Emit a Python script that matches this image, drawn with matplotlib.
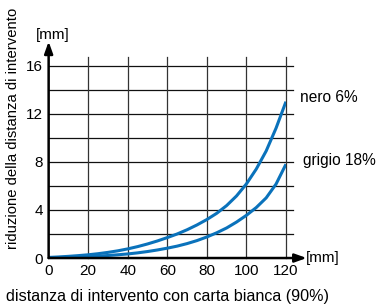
import matplotlib
matplotlib.use("Agg")
import matplotlib.pyplot as plt

x_vals = [0, 5, 10, 15, 20, 25, 30, 35, 40, 45, 50, 55, 60, 65, 70, 75, 80, 85, 90, 95, 100, 105, 110, 115, 120]
nero = [0.05, 0.09, 0.14, 0.20, 0.27, 0.36, 0.47, 0.60, 0.76, 0.95, 1.17, 1.42, 1.7, 2.0, 2.35, 2.75, 3.2,
        3.72, 4.36, 5.16, 6.16, 7.4, 8.9, 10.8, 13.0]
grigio = [0.02, 0.04, 0.06, 0.09, 0.12, 0.16, 0.21, 0.27, 0.34, 0.43, 0.54, 0.67, 0.82, 0.99, 1.2, 1.45, 1.75,
          2.1, 2.5, 2.99, 3.55, 4.2, 5.0, 6.15, 7.8]
x_ticks = [0, 20, 40, 60, 80, 100, 120]
y_ticks = [0, 4, 8, 12, 16]
y_grid = [2, 4, 6, 8, 10, 12, 14, 16]
series_labels = ["nero 6%", "grigio 18%"]

plt.rcParams['font.family'] = ['Liberation Sans', 'DejaVu Sans']
fig = plt.figure(figsize=(3.8, 3.05), dpi=100)
ax = fig.add_axes([0.128, 0.154, 0.6245, 0.631])
ax.set_xlim(0, 120)
ax.set_ylim(0, 16)
for s in ax.spines.values():
    s.set_visible(False)

for yv in y_grid:
    ax.plot([0, 123.5], [yv, yv], color='#111111', lw=0.9, clip_on=False, zorder=1)
for xv in x_ticks[1:]:
    ax.plot([xv, xv], [0, 16.7], color='#333333', lw=0.9, clip_on=False, zorder=1)

blue = '#0a72bb'
ax.plot(x_vals, nero, color=blue, lw=2.2, zorder=3, solid_capstyle='butt', solid_joinstyle='round')
ax.plot(x_vals, grigio, color=blue, lw=2.2, zorder=3, solid_capstyle='butt', solid_joinstyle='round')

# axes with arrows
ax.annotate('', xy=(0, 18.0), xytext=(0, 0), xycoords='data',
            arrowprops=dict(arrowstyle='-|>,head_length=0.7,head_width=0.25', color='black', lw=1.8,
                            shrinkA=0, shrinkB=0), annotation_clip=False)
ax.annotate('', xy=(130.5, 0), xytext=(0, 0), xycoords='data',
            arrowprops=dict(arrowstyle='-|>,head_length=0.7,head_width=0.25', color='black', lw=1.8,
                            shrinkA=0, shrinkB=0), annotation_clip=False)

ax.set_xticks(x_ticks)
ax.set_yticks(y_ticks)
ax.tick_params(length=0, labelsize=11, pad=4)
ax.tick_params(axis='y', pad=4)

ax.text(-6.4, 18.0, '[mm]', fontsize=11, ha='left', va='bottom')
ax.text(130.0, 0, '[mm]', fontsize=11, ha='left', va='center')
ax.text(127.2, 13.35, series_labels[0], fontsize=11.2, ha='left', va='center')
ax.text(128.5, 8.1, series_labels[1], fontsize=11.2, ha='left', va='center')

ax.set_xlabel('distanza di intervento con carta bianca (90%)', fontsize=11.6, labelpad=8)
fig.text(0.033, 0.975, 'riduzione della distanza di intervento', rotation=90, fontsize=10.7,
         ha='center', va='top')

fig.savefig('out.png', dpi=100)
